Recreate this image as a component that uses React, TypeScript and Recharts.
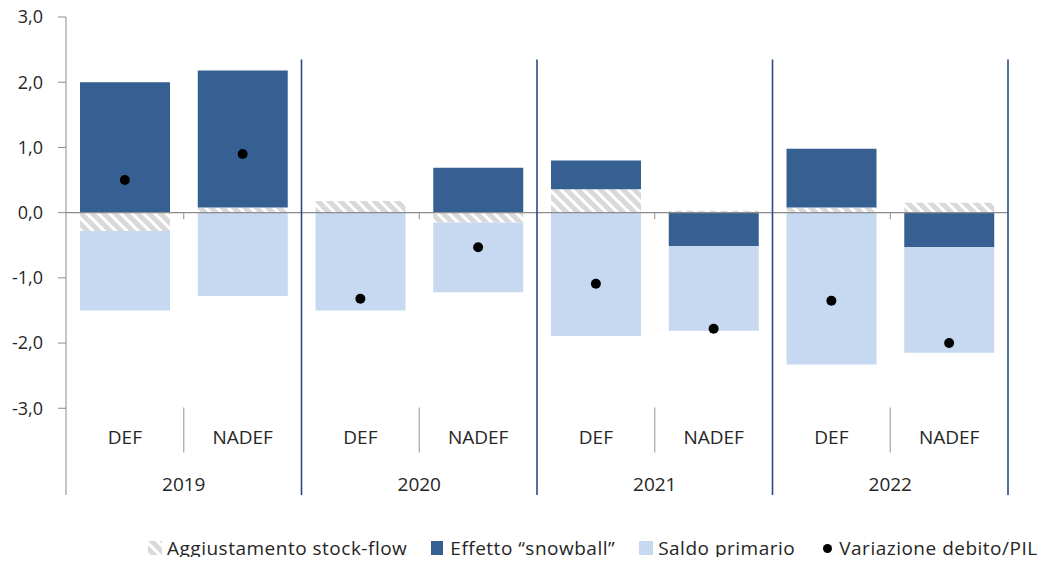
import React from "react";
import {
  Bar,
  ComposedChart,
  Legend,
  Line,
  ReferenceDot,
  ReferenceLine,
  XAxis,
  YAxis,
} from "recharts";

const YEARS = ["2019", "2020", "2021", "2022"];
const DOCS = ["DEF", "NADEF", "DEF", "NADEF", "DEF", "NADEF", "DEF", "NADEF"];
const STOCK_FLOW = [-0.28, 0.08, 0.18, -0.15, 0.36, 0.03, 0.08, 0.15];
const SNOWBALL = [2.0, 2.1, 0, 0.69, 0.44, -0.51, 0.9, -0.53];
const SALDO = [-1.22, -1.28, -1.5, -1.07, -1.89, -1.3, -2.33, -1.62];
const VARIAZIONE = [0.5, 0.9, -1.32, -0.53, -1.09, -1.78, -1.35, -2.0];
const Y_TICKS = [-3, -2, -1, 0, 1, 2, 3];

// pos: centre of each category on a 0..8 numeric scale, used by the hidden axis
const data = DOCS.map((doc, i) => ({
  key: `${YEARS[Math.floor(i / 2)]} ${doc}`,
  pos: i + 0.5,
  stockFlow: STOCK_FLOW[i],
  snowball: SNOWBALL[i],
  saldo: SALDO[i],
  variazione: VARIAZIONE[i],
}));

const FONT = "'Open Sans', 'Noto Sans', sans-serif";
const TEXT = "#262626";
const DARK = "#376092";
const LIGHT = "#C6D9F1";
const HATCH = "#D9D9D9";
const SEP = "#2B4A86";
const AXIS = "#8C8C8C";

const fmt = (v: number) => v.toFixed(1).replace(".", ",");

function DocTick({ x, y, payload }: any) {
  return (
    <text x={x} y={y - 56} textAnchor="middle" dominantBaseline="middle" fontSize={19} fill={TEXT} fontFamily={FONT}>
      {String(payload.value).split(" ")[1]}
    </text>
  );
}

function LegendContent() {
  const item = { display: "flex", alignItems: "center", marginRight: 24, whiteSpace: "nowrap" as const, flexShrink: 0 };
  const box = { width: 12, height: 14, marginRight: 7, flexShrink: 0 };
  return (
    <div
      style={{
        display: "flex",
        paddingLeft: 148,
        fontFamily: FONT,
        fontSize: 19,
        lineHeight: "22px",
        letterSpacing: 0.5,
        color: TEXT,
        height: 22,
        alignItems: "center",
      }}
    >
      <div style={item}>
        <svg width={14} height={14} style={{ marginRight: 5 }}>
          <rect width={14} height={14} fill="url(#hatch)" />
        </svg>
        Aggiustamento stock-flow
      </div>
      <div style={item}>
        <span style={{ ...box, background: DARK }} />
        Effetto “snowball”
      </div>
      <div style={item}>
        <span style={{ ...box, width: 14, marginRight: 5, background: LIGHT }} />
        Saldo primario
      </div>
      <div style={item}>
        <span style={{ width: 9, height: 9, borderRadius: 5, background: "#000", marginRight: 7, marginLeft: 4, flexShrink: 0 }} />
        Variazione debito/PIL
      </div>
    </div>
  );
}

export default function App() {
  return (
    <div style={{ margin: -8 }}>
      <ComposedChart
        width={1046}
        height={565}
        data={data}
        stackOffset="sign"
        margin={{ top: 17, right: 38, left: 8, bottom: 6 }}
      >
        <defs>
          <pattern id="hatch" patternUnits="userSpaceOnUse" width={8} height={8} patternTransform="rotate(-45)">
            <rect width={8} height={8} fill="#fff" />
            <rect width={5} height={8} fill={HATCH} />
          </pattern>
        </defs>
        <XAxis dataKey="key" height={42} axisLine={false} tickLine={false} tickSize={0} tickMargin={0} tick={<DocTick />} interval={0} />
        <XAxis xAxisId="n" dataKey="pos" type="number" domain={[0, 8]} allowDataOverflow hide />
        <YAxis
          domain={[-4.33, 3]}
          ticks={Y_TICKS}
          allowDataOverflow
          width={58}
          tickFormatter={fmt}
          tickSize={8}
          tickMargin={15}
          tick={{ fontSize: 18, fill: TEXT, fontFamily: FONT }}
          axisLine={{ stroke: AXIS }}
          tickLine={{ stroke: AXIS }}
        />
        <Legend
          verticalAlign="bottom"
          align="left"
          wrapperStyle={{ left: 0, width: 1046 }}
          content={<LegendContent />}
        />
        <Bar dataKey="stockFlow" stackId="s" barSize={90} fill="url(#hatch)" isAnimationActive={false} />
        <Bar dataKey="snowball" stackId="s" barSize={90} fill={DARK} isAnimationActive={false} />
        <Bar dataKey="saldo" stackId="s" barSize={90} fill={LIGHT} isAnimationActive={false} />
        <ReferenceLine y={0} stroke={AXIS} strokeWidth={1.2} />
        {[1, 3, 5, 7].map((x) => (
          <ReferenceLine key={`t${x}`} xAxisId="n" segment={[{ x, y: 0 }, { x, y: -0.1 }]} stroke={AXIS} />
        ))}
        {[1, 3, 5, 7].map((x) => (
          <ReferenceLine key={`g${x}`} xAxisId="n" segment={[{ x, y: -2.99 }, { x, y: -3.68 }]} stroke="#A6A6A6" strokeWidth={1.2} />
        ))}
        {[2, 4, 6, 8].map((x) => (
          <ReferenceLine key={`s${x}`} xAxisId="n" segment={[{ x, y: 2.35 }, { x, y: -4.33 }]} stroke={SEP} strokeWidth={1.6} />
        ))}
        {YEARS.map((yr, i) => (
          <ReferenceDot
            key={yr}
            xAxisId="n"
            x={2 * i + 1}
            y={-4.17}
            r={0}
            stroke="none"
            fill="none"
            label={{ value: yr, position: "center", fontSize: 19, fill: TEXT, fontFamily: FONT }}
          />
        ))}
        <Line
          dataKey="variazione"
          stroke="none"
          dot={{ r: 5, fill: "#000", stroke: "none" }}
          activeDot={false}
          legendType="none"
          isAnimationActive={false}
        />
      </ComposedChart>
    </div>
  );
}
